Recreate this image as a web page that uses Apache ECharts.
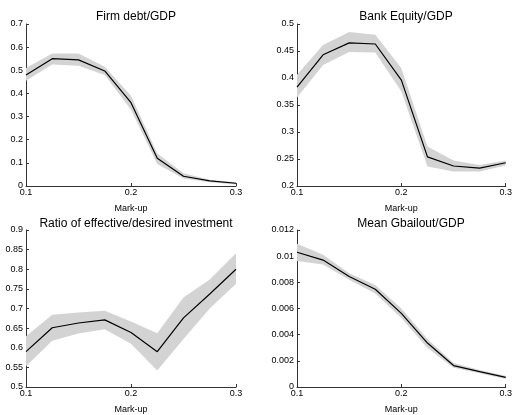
<!DOCTYPE html>
<html>
<head>
<meta charset="utf-8">
<script src="https://cdn.jsdelivr.net/npm/echarts@6/dist/echarts.min.js"></script>
<style>
  html, body { margin: 0; padding: 0; background: #fff; }
  #chart { width: 515px; height: 415px; }
</style>
</head>
<body>
<div id="chart"></div>
<script>
// mark-up values on the x axis
const markup = [0.1, 0.125, 0.15, 0.175, 0.2, 0.225, 0.25, 0.275, 0.3];

// Firm debt/GDP
const debtMean = [0.48, 0.55, 0.545, 0.497, 0.36, 0.12, 0.042, 0.022, 0.012];
const debtLow = [0.455, 0.525, 0.52, 0.48, 0.33, 0.095, 0.032, 0.016, 0.006];
const debtHigh = [0.51, 0.572, 0.572, 0.515, 0.39, 0.14, 0.055, 0.027, 0.016];

// Bank Equity/GDP
const equityMean = [0.383, 0.443, 0.465, 0.463, 0.396, 0.254, 0.237, 0.233, 0.243];
const equityLow = [0.364, 0.424, 0.448, 0.447, 0.375, 0.236, 0.227, 0.227, 0.238];
const equityHigh = [0.406, 0.461, 0.485, 0.48, 0.418, 0.273, 0.247, 0.239, 0.247];

// Ratio of effective/desired investment
const ratioMean = [0.59, 0.651, 0.663, 0.671, 0.639, 0.59, 0.676, 0.737, 0.8];
const ratioLow = [0.553, 0.618, 0.636, 0.647, 0.61, 0.542, 0.622, 0.7, 0.763];
const ratioHigh = [0.629, 0.684, 0.69, 0.694, 0.667, 0.637, 0.728, 0.774, 0.841];

// Mean Gbailout/GDP
const bailMean = [0.0103, 0.0097, 0.00845, 0.00747, 0.00563, 0.00336, 0.00164, 0.00118, 0.00073];
const bailLow = [0.00963, 0.00936, 0.0082, 0.00715, 0.00527, 0.00299, 0.00147, 0.00105, 0.00061];
const bailHigh = [0.01095, 0.0101, 0.0087, 0.00779, 0.006, 0.00367, 0.00184, 0.0013, 0.00086];

const titles = ['Firm debt/GDP', 'Bank Equity/GDP', 'Ratio of effective/desired investment', 'Mean Gbailout/GDP'];
const yRanges = [[0, 0.7, 0.1], [0.2, 0.5, 0.05], [0.5, 0.9, 0.05], [0, 0.012, 0.002]];
const panels = [
  [debtMean, debtLow, debtHigh],
  [equityMean, equityLow, equityHigh],
  [ratioMean, ratioLow, ratioHigh],
  [bailMean, bailLow, bailHigh]
];

const font = 'Liberation Sans, Arial, sans-serif';
const grids = [
  { left: 26, right: 279, top: 24, bottom: 229 },
  { left: 297, right: 7, top: 24, bottom: 229 },
  { left: 26, right: 279, top: 230, bottom: 22 },
  { left: 297, right: 7, top: 230, bottom: 22 }
];
const titlePos = [[131, 6], [401, 6], [131, 213], [406, 213]];

const pairs = (arr) => markup.map((x, i) => [x, arr[i]]);

// shaded band: one polygon, low edge forward then high edge back
function bandRenderer(low, high) {
  return function (params, api) {
    if (params.dataIndex !== 0) return null;
    const pts = [];
    for (let k = 0; k < markup.length; k++) pts.push(api.coord([markup[k], low[k]]));
    for (let k = markup.length - 1; k >= 0; k--) pts.push(api.coord([markup[k], high[k]]));
    return {
      type: 'polygon',
      shape: { points: pts },
      style: { fill: '#d3d3d3', stroke: null }
    };
  };
}

const option = {
  backgroundColor: '#fff',
  animation: false,
  title: titles.map((t, i) => ({
    text: t,
    left: titlePos[i][0],
    top: titlePos[i][1],
    textAlign: 'center',
    textStyle: { fontFamily: font, fontSize: 12, fontWeight: 'normal', color: '#000' }
  })),
  grid: grids,
  xAxis: grids.map((g, i) => ({
    type: 'value',
    gridIndex: i,
    min: 0.1,
    max: 0.3,
    interval: 0.1,
    name: 'Mark-up',
    nameLocation: 'middle',
    nameGap: 18,
    nameTextStyle: { fontFamily: font, fontSize: 9, color: '#000' },
    axisLine: { lineStyle: { color: '#333', width: 1 } },
    axisTick: { inside: true, length: 3, lineStyle: { color: '#333' } },
    axisLabel: { fontFamily: font, fontSize: 9, color: '#000', margin: 2 },
    splitLine: { show: false }
  })),
  yAxis: yRanges.map((r, i) => ({
    type: 'value',
    gridIndex: i,
    min: r[0],
    max: r[1],
    interval: r[2],
    axisLine: { show: true, lineStyle: { color: '#333', width: 1 } },
    axisTick: { show: true, inside: true, length: 3, lineStyle: { color: '#333' } },
    axisLabel: { fontFamily: font, fontSize: 9, color: '#000', margin: 3 },
    splitLine: { show: false }
  })),
  series: []
};

panels.forEach((p, i) => {
  const [mean, low, high] = p;
  option.series.push({
    type: 'custom',
    xAxisIndex: i,
    yAxisIndex: i,
    data: markup.map((x, k) => [x, low[k], high[k]]),
    encode: { x: 0, y: [1, 2] },
    renderItem: bandRenderer(low, high),
    silent: true,
    z: 1
  });
  option.series.push({
    type: 'line',
    xAxisIndex: i,
    yAxisIndex: i,
    data: pairs(mean),
    symbol: 'none',
    lineStyle: { color: '#000', width: 1.2 },
    z: 5
  });
});

const chart = echarts.init(document.getElementById('chart'));
chart.setOption(option);
</script>
</body>
</html>
